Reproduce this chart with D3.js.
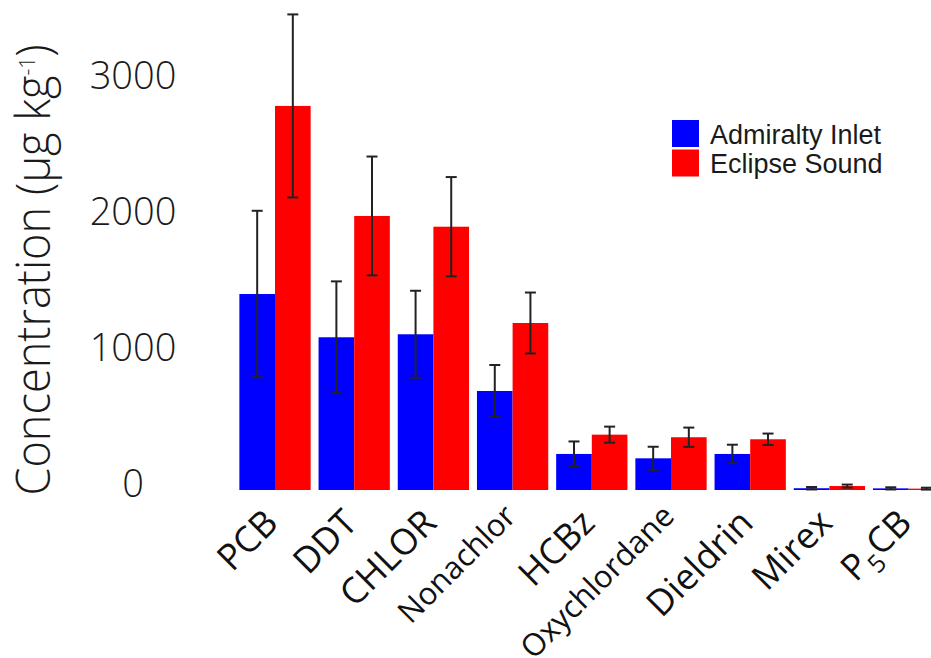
<!DOCTYPE html>
<html>
<head>
<meta charset="utf-8">
<script src="https://cdn.jsdelivr.net/npm/d3@7"></script>
<style>
  html, body { margin: 0; padding: 0; background: #fff; }
  svg { display: block; }
</style>
</head>
<body>
<svg id="chart" width="931" height="658"></svg>
<script>
// Organochlorine concentrations by compound, two sampling sites (mean ± error)
const categories = ["PCB", "DDT", "CHLOR", "Nonachlor", "HCBz", "Oxychlordane", "Dieldrin", "Mirex", "P5CB"];
const seriesNames = ["Admiralty Inlet", "Eclipse Sound"];
const admiraltyMean = [1441, 1123, 1145, 728, 265, 233, 265, 13, 12];
const admiraltyErr  = [612, 411, 320, 191, 92, 85, 68, 9, 8];
const eclipseMean   = [2824, 2015, 1936, 1228, 407, 388, 373, 29, 10];
const eclipseErr    = [673, 437, 365, 224, 59, 71, 42, 11, 7];
const yTicks = [0, 1000, 2000, 3000];

const colors = { "Admiralty Inlet": "#0000ff", "Eclipse Sound": "#ff0000" };
// longer compound names are set in a smaller type
const smallLabels = new Set(["Nonachlor", "Oxychlordane"]);

const rows = categories.map((c, i) => ({
  category: c,
  values: [
    { series: seriesNames[0], mean: admiraltyMean[i], err: admiraltyErr[i] },
    { series: seriesNames[1], mean: eclipseMean[i], err: eclipseErr[i] }
  ]
}));

const svg = d3.select("#chart");

const x = d3.scaleBand()
  .domain(categories)
  .range([235.4, 948.2])
  .paddingInner(0.1)
  .paddingOuter(0.05);

const xs = d3.scaleBand()
  .domain(seriesNames)
  .range([0, x.bandwidth()])
  .padding(0);

const y = d3.scaleLinear()
  .domain([0, 3000])
  .range([490, 82]);

// bars
const groups = svg.append("g").attr("class", "bars")
  .selectAll("g")
  .data(rows)
  .join("g")
  .attr("transform", d => `translate(${x(d.category)},0)`);

groups.selectAll("rect")
  .data(d => d.values)
  .join("rect")
  .attr("x", d => xs(d.series))
  .attr("y", d => y(d.mean))
  .attr("width", xs.bandwidth())
  .attr("height", d => y(0) - y(d.mean))
  .attr("fill", d => colors[d.series]);

// error bars
const eb = groups.selectAll("g.err")
  .data(d => d.values)
  .join("g")
  .attr("class", "err")
  .attr("stroke", "#222")
  .attr("stroke-width", 2);

const cx = d => xs(d.series) + xs.bandwidth() / 2;
const capHalf = 5.5;

eb.append("line")
  .attr("x1", cx).attr("x2", cx)
  .attr("y1", d => y(d.mean + d.err))
  .attr("y2", d => y(Math.max(0, d.mean - d.err)));
eb.append("line")
  .attr("x1", d => cx(d) - capHalf).attr("x2", d => cx(d) + capHalf)
  .attr("y1", d => y(d.mean + d.err)).attr("y2", d => y(d.mean + d.err));
eb.append("line")
  .attr("x1", d => cx(d) - capHalf).attr("x2", d => cx(d) + capHalf)
  .attr("y1", d => y(Math.max(0, d.mean - d.err))).attr("y2", d => y(Math.max(0, d.mean - d.err)));

// y axis: labels only
const yAxis = svg.append("g")
  .attr("transform", "translate(133,0)")
  .call(d3.axisLeft(y).tickValues(yTicks).tickSize(0).tickPadding(0).tickFormat(d3.format("d")));
yAxis.select(".domain").remove();
yAxis.selectAll("text")
  .attr("x", 0)
  .attr("y", -6)
  .attr("text-anchor", "middle")
  .attr("fill", "#1a1a1a")
  .style("font-family", "'Open Sans', sans-serif")
  .style("font-weight", 300)
  .style("font-size", "38px");

// y title
const title = svg.append("text")
  .attr("transform", "translate(50,270) rotate(-90) scale(0.96,1)")
  .attr("text-anchor", "middle")
  .attr("fill", "#1a1a1a")
  .style("font-family", "'Open Sans', sans-serif")
  .style("font-weight", 300)
  .style("font-size", "47px");
title.append("tspan").text("Concentration (μg kg");
title.append("tspan").attr("dy", -15).style("font-size", "22px").text("-1");
title.append("tspan").attr("dy", 15).text(")");

// x labels, rotated
const xl = svg.append("g").attr("class", "xlabels")
  .selectAll("text")
  .data(categories)
  .join("text")
  .attr("transform", d => `translate(${x(d) + x.bandwidth() / 2 + 5},${smallLabels.has(d) ? 518 : 525}) rotate(-45)`)
  .attr("text-anchor", "end")
  .attr("fill", "#111")
  .style("font-family", "'Open Sans', sans-serif")
  .style("font-size", d => smallLabels.has(d) ? "31px" : "36px");

xl.each(function (d) {
  const t = d3.select(this);
  if (d === "P5CB") {
    t.append("tspan").text("P");
    t.append("tspan").attr("dy", 10).style("font-size", "25px").text("5");
    t.append("tspan").attr("dy", -10).text("CB");
  } else {
    t.text(d);
  }
});

// legend
const legend = svg.append("g").attr("transform", "translate(672,120)")
  .selectAll("g")
  .data(seriesNames)
  .join("g")
  .attr("transform", (d, i) => `translate(0,${i * 29.5})`);
legend.append("rect")
  .attr("width", 27).attr("height", 27)
  .attr("fill", d => colors[d]);
legend.append("text")
  .attr("x", 38).attr("y", 23.5)
  .attr("fill", "#1a1a1a")
  .style("font-family", "'Liberation Sans', Arial, sans-serif")
  .style("font-size", "27px")
  .text(d => d);
</script>
</body>
</html>
